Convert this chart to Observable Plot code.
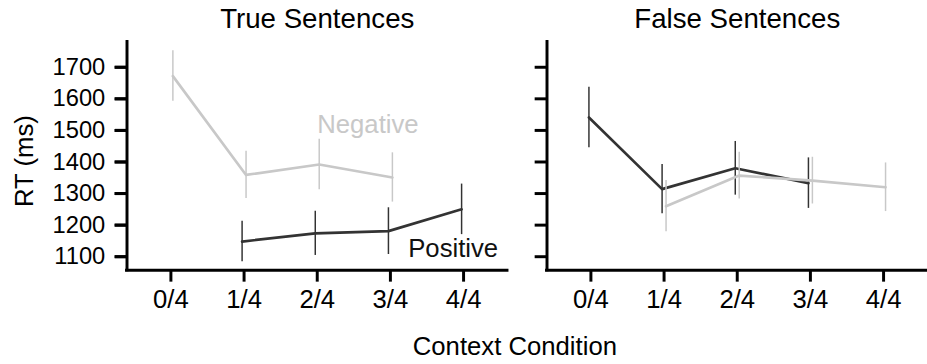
<!DOCTYPE html>
<html><head><meta charset="utf-8">
<script src="https://cdn.jsdelivr.net/npm/d3@7"></script>
<script src="https://cdn.jsdelivr.net/npm/@observablehq/plot@0.6"></script>
<style>
body{margin:0;overflow:hidden;background:#fff}
svg{font-family:"Liberation Sans",Arial,Helvetica,sans-serif}
</style>
</head><body><div id="chart"></div>
<script>
const categories = ["0/4","1/4","2/4","3/4","4/4"];
const panels = ["True Sentences","False Sentences"];
const seriesNames = ["Positive","Negative"];
const yTicks = [1100,1200,1300,1400,1500,1600,1700];

const truePositiveMean = [null,1148,1174,1181,1250];
const truePositiveErr  = [null,64,70,74,80];
const trueNegativeMean = [1672,1359,1392,1351,null];
const trueNegativeErr  = [80,75,80,78,null];
const falsePositiveMean = [1541,1314,1380,1333,null];
const falsePositiveErr  = [96,78,85,80,null];
const falseNegativeMean = [null,1260,1357,1341,1320];
const falseNegativeErr  = [null,81,74,74,77];

function rows(panel, series, means, errs) {
  return categories.map((c, i) => ({panel, series, i, cat: c, mean: means[i], err: errs[i]}))
    .filter(d => d.mean != null);
}
const data = [
  ...rows(panels[0], "Positive", truePositiveMean, truePositiveErr),
  ...rows(panels[0], "Negative", trueNegativeMean, trueNegativeErr),
  ...rows(panels[1], "Positive", falsePositiveMean, falsePositiveErr),
  ...rows(panels[1], "Negative", falseNegativeMean, falseNegativeErr)
];

const colors = {Positive: "#333333", Negative: "#c8c8c8"};
const dodge = {Positive: -2, Negative: 2};
const yMin = 1057, yMax = 1780;
const xIdx = categories.map((c, i) => i);

const seriesMarks = seriesNames.flatMap(s => {
  const sd = data.filter(d => d.series === s);
  return [
    Plot.ruleX(sd, {fx: "panel", x: "i", y1: d => d.mean - d.err, y2: d => d.mean + d.err,
      stroke: colors[s], strokeWidth: 1.5, dx: dodge[s]}),
    Plot.line(sd, {fx: "panel", x: "i", y: "mean", stroke: colors[s], strokeWidth: 2.7, dx: dodge[s]})
  ];
});

const chart = Plot.plot({
  width: 938,
  height: 364,
  marginTop: 42,
  marginBottom: 91,
  marginLeft: 128,
  marginRight: 0,
  style: {fontFamily: '"Liberation Sans", Arial, sans-serif', background: "#fff", color: "#000"},
  fx: {domain: panels, paddingInner: 40/425, paddingOuter: 0, axis: null, label: null},
  x: {type: "linear", domain: [-0.6, 4.6], axis: null},
  y: {domain: [yMin, yMax], axis: null},
  marks: [
    ...seriesMarks,
    Plot.ruleX([-0.6], {stroke: "#000", strokeWidth: 3, strokeLinecap: "square"}),
    Plot.ruleY([yMin], {stroke: "#000", strokeWidth: 3, strokeLinecap: "square"}),
    Plot.axisY({ticks: yTicks, tickSize: 12, tickFormat: () => "", strokeWidth: 3, facetAnchor: null, label: null}),
    Plot.axisY({ticks: yTicks, tickSize: 12, tickPadding: 10, tickFormat: d => String(d), fontSize: 24, strokeWidth: 3, label: null}),
    Plot.axisX({ticks: xIdx, tickFormat: i => categories[i], tickSize: 12, tickPadding: 8, fontSize: 26, strokeWidth: 3, label: null}),
    Plot.text(panels, {fx: d => d, text: d => d, frameAnchor: "top", lineAnchor: "middle", dy: -23, fontSize: 28, fill: "#000"}),
    Plot.text(["Negative"], {fx: () => panels[0], x: () => 2, y: () => 1518, text: d => d,
      textAnchor: "start", fontSize: 26, fill: colors.Negative}),
    Plot.text(["Positive"], {fx: () => panels[0], x: () => 4, y: () => 1124, text: d => d,
      textAnchor: "end", dx: 35, fontSize: 26, fill: "#111"})
  ]
});

const svg = d3.select(chart);
svg.append("text")
  .attr("transform", "translate(33,163) rotate(-90)")
  .attr("text-anchor", "middle")
  .attr("font-size", 26)
  .attr("fill", "#000")
  .text("RT (ms)");
svg.append("text")
  .attr("x", 521).attr("y", 359)
  .attr("text-anchor", "middle")
  .attr("font-size", 26)
  .attr("fill", "#000")
  .text("Context Condition");

document.getElementById("chart").appendChild(chart);
</script>
</body></html>
